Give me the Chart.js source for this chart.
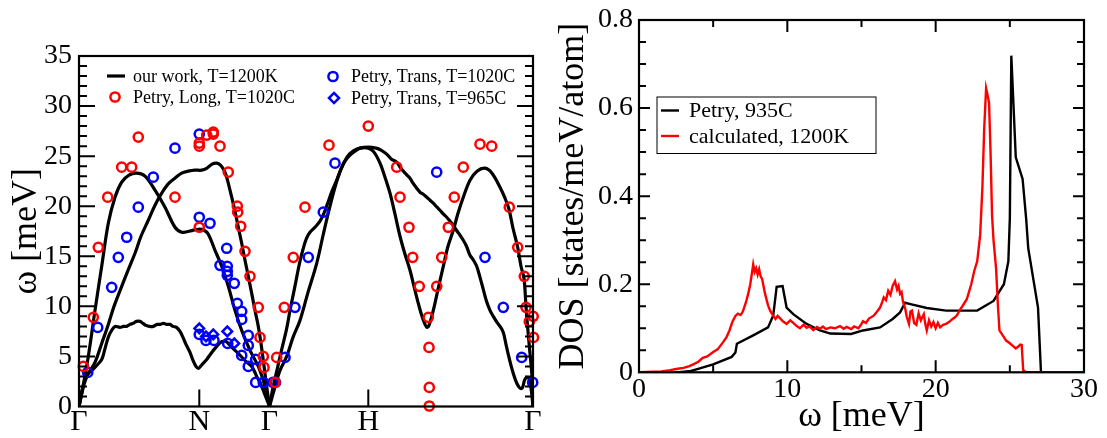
<!DOCTYPE html>
<html>
<head>
<meta charset="utf-8">
<script src="https://cdn.jsdelivr.net/npm/chart.js@4/dist/chart.umd.min.js"></script>
<style>
  html, body { margin: 0; padding: 0; background: #fff; }
  #wrap { position: relative; width: 1107px; height: 438px; overflow: hidden; }
  #dispersion { position: absolute; left: 0; top: 0; }
  #dos { position: absolute; left: 555px; top: 0; }
</style>
</head>
<body>
<div id="wrap">
  <canvas id="dispersion" width="555" height="438"></canvas>
  <canvas id="dos" width="552" height="438"></canvas>
</div>
<script>
// ---- left panel: dispersion along the path ----
const pathTicks = [0, 120.3, 190.5, 289.3, 454];
const pathLabels = ['Γ', 'N', 'Γ', 'H', 'Γ'];

// calculated branches (our work, T=1200K)
const ourUpperGN = [[0,0],[4,2],[9.3,5],[16,9.6],[22.7,14],[29.3,18.3],[36,20.9],[42.7,22.4],[50,23.1],[57.7,23.3],[66,23],[76,21.6],[86,19.9],[96,17.9],[102.7,17.4],[110,17.5],[119.3,17.7],[125,17.6],[129.3,17.2],[136,15.6],[142.7,14],[149.3,12],[156,9.6],[162.7,7.6],[171,5.6],[179.3,4.0],[186,2.0],[190.5,0]];
const ourMiddleGN = [[0,0],[5,2.2],[9.3,3.3],[16,4.4],[22.7,6.3],[29.3,8.2],[35,10],[42.7,12],[49,13.6],[56,15.3],[62,17],[69.3,18.6],[76,20.1],[82.7,21.3],[89,22.2],[96,22.8],[102.7,23.3],[109.3,23.5],[116,23.6],[122.7,23.6],[128,23.8],[133,24.2],[137.7,24.3],[141.5,24.1],[145,23.6],[147.7,22.9],[150,22.0],[152.7,20.9],[156,19.5],[159.3,17.9],[162.7,16.3],[166,14.6],[169.3,13.0],[172.7,11.3],[176,9.6],[179.3,8],[182,6.3],[184.3,4.6],[187,2.5],[190.5,0]];
const ourLowerGN = [[0,0],[3,1.6],[6,2.7],[9.3,3.3],[13,3.6],[17.7,4.1],[22.7,4.7],[25.5,5.6],[27.7,6.4],[30,7.1],[32.7,7.6],[36,8.0],[41,7.9],[44.5,8.0],[47.7,8.0],[51,8.2],[54,8.3],[57.5,8.5],[61,8.5],[64,8.3],[67,8.1],[70.5,8.0],[74.3,8.0],[78,8.2],[81,8.2],[84.5,8.3],[87.7,8.2],[91,8.2],[94,8.0],[97.5,7.9],[101,7.5],[104,6.9],[107,6.2],[111,5.4],[114,4.6],[117,4.0],[119.3,3.8],[121.5,4.0],[124,4.3],[127.7,4.7],[132,5.3],[137.7,6.0],[141.5,6.4],[144.3,6.5],[147,6.5],[150,6.2],[154,5.8],[159.3,5.3],[164,4.8],[168,4.4],[172.7,4.0],[175.5,3.5],[177.7,3.0],[180.5,2.5],[183.5,1.8],[187,0.9],[190.5,0]];
const ourSteepGHG = [[190.5,0],[195,1.6],[201,3.6],[207.7,5.0],[214,6.9],[221,8.6],[229,11.4],[237.7,14.3],[244.3,17.2],[250,19.6],[256,21.9],[262,23.7],[268,24.9],[274,25.5],[281,25.8],[289.3,25.8],[295,25.4],[301,24.3],[306,22.9],[311,21.3],[316,19.2],[321,17.0],[326,15.2],[331,13.6],[335,12.0],[339.3,10.3],[343,9.0],[346,8.2],[348,7.9],[350,8.1],[354.3,9.6],[359,11.7],[364.3,14.0],[369,16.0],[374.3,17.6],[379,19.3],[384.3,20.9],[391,22.6],[398,23.5],[406,23.8],[413,23.3],[421,21.9],[426,20.8],[430,19.7],[434,17.8],[438.7,15.9],[442,14.0],[445,12.8],[447,10],[449,7.5],[451,5.3],[453,3.0],[454,0]];
const ourShoulderGHG = [[190.5,0],[194,1.9],[197.7,3.5],[202,5.4],[207.7,7.8],[211,9.6],[214.3,11.2],[217.5,12.8],[220.5,14.3],[224.3,15.8],[227.5,16.8],[231,17.4],[236,17.9],[241,18.5],[245,19.3],[249,20.4],[253,21.5],[257.7,22.6],[262,23.7],[266,24.5],[271,25.1],[276,25.5],[281,25.8],[289.3,25.9],[297,25.8],[302,25.6],[307.7,25.2],[312.5,24.7],[317.7,24.4],[321,23.9],[324.3,23.5],[328,23.1],[331,22.8],[334,22.3],[337.7,21.8],[341,21.4],[344.3,21.2],[347.7,20.9],[351,20.6],[354.3,20.3],[358,19.9],[361,19.6],[364.5,19.2],[367.7,18.9],[371,18.5],[374.3,18.1],[377.5,17.6],[381,17.1],[384.3,16.6],[387.5,16.0],[391,15.1],[394.5,14.6],[397.7,14.0],[401,12.9],[404,11.8],[407.5,10.5],[411,9.6],[414.3,9.0],[418,8.4],[421,8.0],[424.3,7.4],[427,6.2],[429.5,5.1],[432,4.1],[434.3,3.3],[437,2.5],[439.5,2.0],[441.5,1.8],[443.5,1.9],[445.5,2.6],[447.5,2.9],[450,2.8],[451.5,2.2],[453,1.0],[454,0]];

// measured points (Petry)
const petryLong1020 = [[4.3,4.0],[14.3,8.9],[19.3,15.9],[28.7,20.9],[42.7,23.9],[52.7,23.9],[59.3,26.9],[96,20.9],[120.3,26.3],[120.3,26.0],[120.3,17.9],[127.7,27.1],[134.3,27.4],[134.3,27.2],[141,26.0],[149.3,23.4],[158.3,20.0],[158.7,19.4],[161.7,18.0],[166,15.5],[171,13.0],[179.3,9.9],[181,6.9],[184.3,5.0],[185,3.9],[196,2.4],[197.7,4.9],[205.3,9.9],[214.3,14.9],[226,19.9],[250,26.1],[289.3,28.0],[317.7,23.9],[321,20.9],[330,17.9],[333.7,14.9],[340.3,12.0],[349.3,8.9],[350,5.9],[350.3,1.9],[350.3,0.05],[357.7,12.0],[362.7,14.9],[369.3,17.9],[375.3,20.9],[384.3,23.9],[401,26.2],[412.7,26.0],[430.3,19.9],[438.7,15.9],[445.3,13.0],[447,9.9],[454.2,9.0],[450.3,8.5],[454.5,6.9]];
const petryTrans1020 = [[8.7,3.4],[18.7,7.9],[32.7,11.9],[39.3,14.9],[47.7,16.9],[59.3,19.9],[74.3,22.9],[96,25.8],[120.3,27.2],[120.3,18.9],[131,18.3],[120.3,7.2],[127,6.6],[135,6.6],[148.7,6.3],[147.7,15.8],[141,14.1],[148.3,14.0],[148.3,13.5],[148.3,13.1],[155.3,12.3],[158.3,10.3],[162.7,9.5],[162.7,8.7],[169.3,7.1],[169.3,6.1],[162.7,5.1],[169.3,4.0],[176.7,4.7],[176.7,2.4],[184.3,2.4],[194,2.4],[196.5,2.4],[206,4.9],[216,9.9],[229.3,14.9],[244.3,19.4],[256,24.3],[357.7,23.4],[406,14.9],[424.3,9.9],[442.7,4.9],[453.7,2.4]];
const petryTrans965 = [[120.3,7.8],[127,7.0],[134.3,7.2],[148.3,7.5],[155.3,6.3]];

// ---- right panel: density of states ----
const dosPetry935 = [[0,0],[2.7,0],[3.5,0.003],[4.1,0.009],[5.0,0.018],[6.25,0.035],[6.5,0.045],[6.6,0.065],[7.7,0.084],[8.7,0.102],[9.05,0.129],[9.28,0.194],[9.68,0.196],[9.95,0.147],[10.4,0.132],[11.3,0.11],[12.2,0.095],[12.9,0.088],[14.3,0.087],[15.1,0.095],[16.25,0.102],[17.1,0.121],[17.6,0.136],[17.94,0.158],[18.3,0.155],[19.4,0.146],[20.7,0.14],[22.8,0.14],[23.9,0.162],[24.6,0.2],[24.9,0.252],[25.0,0.35],[25.1,0.719],[25.4,0.488],[25.86,0.439],[26.1,0.349],[26.24,0.282],[26.9,0.147],[27.1,0],[30,0]];
const dosCalc1200 = [[0,0],[1.5,0.002],[2.1,0.005],[2.6,0.008],[3.0,0.010],[3.4,0.014],[3.66,0.018],[4.0,0.024],[4.3,0.033],[4.6,0.036],[5.0,0.046],[5.3,0.052],[5.66,0.068],[5.9,0.080],[6.1,0.095],[6.3,0.115],[6.5,0.128],[6.66,0.133],[6.85,0.130],[7.0,0.138],[7.2,0.158],[7.36,0.178],[7.5,0.200],[7.6,0.222],[7.7,0.245],[7.8,0.228],[7.9,0.236],[8.0,0.222],[8.1,0.234],[8.2,0.218],[8.3,0.212],[8.5,0.178],[8.7,0.152],[8.84,0.140],[9.0,0.131],[9.2,0.121],[9.35,0.128],[9.5,0.123],[9.7,0.116],[9.95,0.110],[10.2,0.118],[10.4,0.112],[10.6,0.106],[10.85,0.100],[11.1,0.108],[11.3,0.101],[11.5,0.104],[11.75,0.096],[12.0,0.103],[12.2,0.099],[12.4,0.104],[12.6,0.098],[12.9,0.102],[13.2,0.100],[13.55,0.105],[13.8,0.099],[14.0,0.103],[14.3,0.098],[14.5,0.104],[14.8,0.100],[15.0,0.110],[15.1,0.116],[15.3,0.112],[15.5,0.122],[15.8,0.128],[16.0,0.136],[16.25,0.147],[16.4,0.160],[16.5,0.170],[16.65,0.164],[16.8,0.185],[16.95,0.176],[17.1,0.196],[17.26,0.207],[17.4,0.188],[17.5,0.196],[17.6,0.178],[17.7,0.182],[17.8,0.160],[17.94,0.146],[18.05,0.126],[18.2,0.110],[18.3,0.138],[18.4,0.140],[18.55,0.112],[18.7,0.108],[18.85,0.134],[19.0,0.118],[19.2,0.132],[19.3,0.110],[19.4,0.095],[19.55,0.118],[19.7,0.104],[19.85,0.114],[20.0,0.100],[20.15,0.112],[20.3,0.102],[20.5,0.108],[20.7,0.110],[20.9,0.114],[21.1,0.120],[21.3,0.125],[21.45,0.130],[21.6,0.140],[21.8,0.150],[22.1,0.166],[22.4,0.200],[22.6,0.230],[22.8,0.252],[23.0,0.312],[23.15,0.420],[23.27,0.551],[23.4,0.645],[23.5,0.630],[23.6,0.611],[23.7,0.500],[23.8,0.357],[23.9,0.300],[24.07,0.237],[24.2,0.150],[24.3,0.095],[24.5,0.085],[24.75,0.072],[25.0,0.066],[25.2,0.060],[25.4,0.054],[25.55,0.058],[25.7,0.063],[25.8,0.062],[25.9,0.005],[26.1,0],[30,0]];

const FONT = "'Liberation Serif', 'Times New Roman', serif";
Chart.defaults.font.family = FONT;
Chart.defaults.color = '#000';

// frame round the plot area with inward ticks, XMGrace style
const frameTicks = {
  id: 'frameTicks',
  afterDatasetsDraw(chart, args, o) {
    const { ctx, chartArea: a } = chart;
    const xs = chart.scales.x, ys = chart.scales.y;
    ctx.save();
    ctx.strokeStyle = '#000';
    ctx.lineWidth = o.tickWidth;
    ctx.beginPath();
    const nY = Math.round((ys.max - ys.min) / o.yStep);
    for (let i = 1; i < nY; i++) {
      const py = ys.getPixelForValue(ys.min + i * o.yStep);
      const len = i % o.yMajorEvery === 0 ? o.yMajorLen : o.yMinorLen;
      if (o.ySides.includes('left')) { ctx.moveTo(a.left, py); ctx.lineTo(a.left + len, py); }
      if (o.ySides.includes('right')) { ctx.moveTo(a.right, py); ctx.lineTo(a.right - len, py); }
    }
    o.xMarks.forEach(m => {
      const px = xs.getPixelForValue(m.v);
      const len = m.major ? o.xMajorLen : o.xMinorLen;
      if (o.xSides.includes('bottom')) { ctx.moveTo(px, a.bottom); ctx.lineTo(px, a.bottom - len); }
      if (o.xSides.includes('top')) { ctx.moveTo(px, a.top); ctx.lineTo(px, a.top + len); }
    });
    ctx.stroke();
    ctx.lineWidth = o.frameWidth;
    ctx.strokeRect(a.left, a.top, a.right - a.left, a.bottom - a.top);
    ctx.restore();
  }
};

// legend drawn at fixed spots inside the panel
const panelLegend = {
  id: 'panelLegend',
  afterDraw(chart, args, o) {
    const ctx = chart.ctx;
    ctx.save();
    if (o.box) {
      ctx.fillStyle = '#fff';
      ctx.fillRect(o.box[0], o.box[1], o.box[2], o.box[3]);
      ctx.strokeStyle = '#000';
      ctx.lineWidth = 1;
      ctx.strokeRect(o.box[0] + 0.5, o.box[1] + 0.5, o.box[2], o.box[3]);
    }
    ctx.font = o.fontSize + 'px ' + FONT;
    ctx.textBaseline = 'middle';
    ctx.textAlign = 'left';
    o.items.forEach(it => {
      const ds = chart.data.datasets[it.ds];
      ctx.strokeStyle = ds.borderColor;
      ctx.beginPath();
      if (it.symbol === 'line') {
        ctx.lineWidth = it.lw;
        ctx.moveTo(it.sx - it.len / 2, it.y);
        ctx.lineTo(it.sx + it.len / 2, it.y);
      } else if (it.symbol === 'circle') {
        ctx.lineWidth = ds.borderWidth;
        ctx.arc(it.sx, it.y, ds.pointRadius, 0, Math.PI * 2);
      } else {
        const r = ds.pointRadius * 1.05;
        ctx.lineWidth = ds.borderWidth;
        ctx.moveTo(it.sx, it.y - r); ctx.lineTo(it.sx + r, it.y);
        ctx.lineTo(it.sx, it.y + r); ctx.lineTo(it.sx - r, it.y);
        ctx.closePath();
      }
      ctx.stroke();
      ctx.fillStyle = '#000';
      ctx.fillText(ds.label, it.tx, it.y + 1);
    });
    ctx.restore();
  }
};

Chart.register(frameTicks, panelLegend);

function curve(label, pts) {
  return { label, data: pts, showLine: true, borderColor: '#000', borderWidth: 3.2,
           pointRadius: 0, tension: 0.35, order: 2 };
}
function marks(label, pts, color, style) {
  return { label, data: pts, showLine: false, borderColor: color, backgroundColor: 'rgba(0,0,0,0)',
           pointStyle: style, pointRadius: style === 'circle' ? 4.6 : 4.8, borderWidth: 2.5,
           clip: false, order: 0 };
}

new Chart(document.getElementById('dispersion'), {
  type: 'scatter',
  data: {
    datasets: [
      curve('our work, T=1200K', ourUpperGN),
      curve('our work, T=1200K', ourMiddleGN),
      curve('our work, T=1200K', ourLowerGN),
      curve('our work, T=1200K', ourSteepGHG),
      curve('our work, T=1200K', ourShoulderGHG),
      marks('Petry, Long, T=1020C', petryLong1020, '#ff0000', 'circle'),
      marks('Petry, Trans, T=1020C', petryTrans1020, '#0000ff', 'circle'),
      marks('Petry, Trans, T=965C', petryTrans965, '#0000ff', 'rectRot')
    ]
  },
  options: {
    responsive: false,
    animation: false,
    events: [],
    layout: { padding: { left: 0, right: 22, top: 56, bottom: 0 } },
    plugins: {
      legend: { display: false },
      tooltip: { enabled: false },
      frameTicks: {
        frameWidth: 2.2, tickWidth: 2,
        yStep: 1, yMajorEvery: 5, yMajorLen: 16, yMinorLen: 8, ySides: ['left', 'right'],
        xMarks: [{ v: pathTicks[1], major: true }, { v: pathTicks[3], major: true }],
        xMajorLen: 17, xMinorLen: 8, xSides: ['bottom']
      },
      panelLegend: {
        fontSize: 18,
        items: [
          { ds: 0, symbol: 'line', sx: 116, len: 18, lw: 3.2, tx: 133, y: 76 },
          { ds: 5, symbol: 'circle', sx: 115, tx: 133, y: 97 },
          { ds: 6, symbol: 'circle', sx: 333, tx: 351, y: 76.5 },
          { ds: 7, symbol: 'diamond', sx: 334, tx: 351, y: 98 }
        ]
      }
    },
    scales: {
      x: {
        type: 'linear', min: pathTicks[0], max: pathTicks[pathTicks.length - 1],
        grid: { display: false, drawTicks: false }, border: { display: false },
        afterBuildTicks: s => { s.ticks = pathTicks.map(v => ({ value: v })); },
        afterFit: s => { s.height = 31.5; },
        ticks: { autoSkip: false, maxRotation: 0, padding: 1,
                 font: { size: 30, lineHeight: 1 },
                 callback: (v, i) => pathLabels[i] }
      },
      y: {
        min: 0, max: 35,
        grid: { display: false, drawTicks: false }, border: { display: false },
        afterFit: s => { s.width = 79; },
        ticks: { stepSize: 5, padding: 7, font: { size: 28, lineHeight: 1 } },
        title: { display: true, text: 'ω [meV]', font: { size: 36, lineHeight: 1 }, padding: { top: 9, bottom: 0 } }
      }
    }
  }
});

new Chart(document.getElementById('dos'), {
  type: 'line',
  data: {
    datasets: [
      { label: 'Petry, 935C', data: dosPetry935, borderColor: '#000', borderWidth: 2.4,
        pointRadius: 0, tension: 0, order: 1 },
      { label: 'calculated, 1200K', data: dosCalc1200, borderColor: '#ff0000', borderWidth: 2.4,
        pointRadius: 0, tension: 0, order: 0 }
    ]
  },
  options: {
    responsive: false,
    animation: false,
    events: [],
    layout: { padding: { left: 0, right: 23, top: 15.7, bottom: 0 } },
    plugins: {
      legend: { display: false },
      tooltip: { enabled: false },
      frameTicks: {
        frameWidth: 2.2, tickWidth: 2,
        yStep: 0.05, yMajorEvery: 4, yMajorLen: 11, yMinorLen: 7, ySides: ['left', 'right'],
        xMarks: [{ v: 5 }, { v: 10, major: true }, { v: 15 }, { v: 20, major: true }, { v: 25 }],
        xMajorLen: 12, xMinorLen: 7, xSides: ['bottom', 'top']
      },
      panelLegend: {
        fontSize: 22,
        box: [101.5, 96.5, 219, 56.5],
        items: [
          { ds: 0, symbol: 'line', sx: 115, len: 18, lw: 2.4, tx: 134, y: 110.5 },
          { ds: 1, symbol: 'line', sx: 115, len: 18, lw: 2.4, tx: 134, y: 136 }
        ]
      }
    },
    scales: {
      x: {
        type: 'linear', min: 0, max: 30,
        grid: { display: false, drawTicks: false }, border: { display: false },
        afterFit: s => { s.height = 65.7; },
        ticks: { stepSize: 10, autoSkip: false, maxRotation: 0, padding: 3, font: { size: 28, lineHeight: 1 } },
        title: { display: true, text: 'ω [meV]', font: { size: 36, lineHeight: 1 }, padding: { top: 0, bottom: 3 } }
      },
      y: {
        min: 0, max: 0.8,
        grid: { display: false, drawTicks: false }, border: { display: false },
        afterFit: s => { s.width = 84; },
        ticks: { stepSize: 0.2, padding: 6, font: { size: 28, lineHeight: 1 },
                 callback: v => v === 0 ? '0' : v.toFixed(1) },
        title: { display: true, text: 'DOS [states/meV/atom]', font: { size: 36, lineHeight: 1 }, padding: { top: 1, bottom: 0 } }
      }
    }
  }
});
</script>
</body>
</html>
